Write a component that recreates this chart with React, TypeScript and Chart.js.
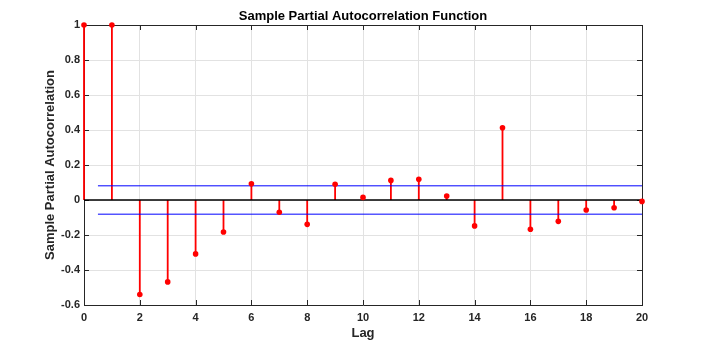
import React, { useEffect, useRef } from "react";
import { Chart, registerables } from "chart.js";

Chart.register(...registerables);

const lags = [0, 1, 2, 3, 4, 5, 6, 7, 8, 9, 10, 11, 12, 13, 14, 15, 16, 17, 18, 19, 20];
const pacf = [1, 1, -0.54, -0.468, -0.308, -0.183, 0.093, -0.07, -0.139, 0.09, 0.015, 0.112, 0.118, 0.023, -0.148, 0.413, -0.167, -0.122, -0.057, -0.044, -0.008];
const confBound = 0.081;
const boundStart = 0.5;
const xTicks = [0, 2, 4, 6, 8, 10, 12, 14, 16, 18, 20];
const yTicks = [-0.6, -0.4, -0.2, 0, 0.2, 0.4, 0.6, 0.8, 1];
const titleText = "Sample Partial Autocorrelation Function";
const xLabel = "Lag";
const yLabel = "Sample Partial Autocorrelation";

const FONT = "'Liberation Sans', Arial, Helvetica, sans-serif";
const AXIS = "#262626";
const GRID = "#e2e2e2";

const inwardTicks = {
  id: "inwardTicks",
  beforeDatasetsDraw(chart: any) {
    const { ctx, chartArea, scales } = chart;
    const { left, right, top, bottom } = chartArea;
    const len = 5;
    ctx.save();
    ctx.strokeStyle = AXIS;
    ctx.lineWidth = 1;
    ctx.beginPath();
    for (const v of xTicks) {
      const px = Math.round(scales.x.getPixelForValue(v)) + 0.5;
      ctx.moveTo(px, bottom);
      ctx.lineTo(px, bottom - len);
      ctx.moveTo(px, top);
      ctx.lineTo(px, top + len);
    }
    for (const v of yTicks) {
      const py = Math.round(scales.y.getPixelForValue(v)) + 0.5;
      ctx.moveTo(left, py);
      ctx.lineTo(left + len, py);
      ctx.moveTo(right, py);
      ctx.lineTo(right - len, py);
    }
    ctx.stroke();
    ctx.restore();
  },
};

export default function App() {
  const ref = useRef<HTMLCanvasElement | null>(null);

  useEffect(() => {
    document.body.style.margin = "0";
    const canvas = ref.current;
    if (!canvas) return;

    const stemData: any[] = [];
    lags.forEach((l, i) => {
      stemData.push({ x: l, y: 0 });
      stemData.push({ x: l, y: pacf[i] });
      stemData.push({ x: l, y: null });
    });
    const markerData = lags.map((l, i) => ({ x: l, y: pacf[i] }));
    const lastLag = lags[lags.length - 1];

    const chart = new Chart(canvas, {
      type: "scatter",
      data: {
        datasets: [
          {
            type: "scatter",
            data: markerData,
            pointRadius: 2.8,
            pointBackgroundColor: "#ff0000",
            pointBorderColor: "#ff0000",
            pointBorderWidth: 0,
            clip: false as any,
            order: 0,
          },
          {
            type: "line",
            data: [
              { x: lags[0], y: 0 },
              { x: lastLag, y: 0 },
            ],
            borderColor: "#000000",
            borderWidth: 1.5,
            pointRadius: 0,
            showLine: true,
            order: 1,
          },
          {
            type: "line",
            data: [
              { x: boundStart, y: confBound },
              { x: lastLag, y: confBound },
            ],
            borderColor: "#0000ff",
            borderWidth: 1,
            pointRadius: 0,
            showLine: true,
            order: 2,
          },
          {
            type: "line",
            data: [
              { x: boundStart, y: -confBound },
              { x: lastLag, y: -confBound },
            ],
            borderColor: "#0000ff",
            borderWidth: 1,
            pointRadius: 0,
            showLine: true,
            order: 2,
          },
          {
            type: "line",
            data: stemData,
            borderColor: "#ff0000",
            borderWidth: 1.8,
            pointRadius: 0,
            showLine: true,
            spanGaps: false,
            clip: false as any,
            order: 3,
          },
        ] as any,
      },
      options: {
        animation: false,
        responsive: false,
        devicePixelRatio: 1,
        layout: { padding: 0 },
        plugins: {
          legend: { display: false },
          tooltip: { enabled: false },
          title: { display: false },
        },
        scales: {
          x: {
            type: "linear",
            position: "bottom",
            min: 0,
            max: 20,
            afterBuildTicks: (s: any) => {
              s.ticks = xTicks.map((v) => ({ value: v }));
            },
            afterFit: (s: any) => {
              s.height = 43;
            },
            grid: { color: GRID, lineWidth: 1, drawTicks: false },
            border: { display: true, color: AXIS, width: 1 },
            ticks: {
              padding: 6,
              color: AXIS,
              autoSkip: false,
              maxRotation: 0,
              font: { family: FONT, size: 11, weight: "bold" },
              callback: (v: any) => String(v),
            },
            title: {
              display: true,
              text: xLabel,
              color: AXIS,
              font: { family: FONT, size: 13, weight: "bold" },
              padding: { top: 0, bottom: 7 },
            },
          },
          x2: {
            type: "linear",
            position: "top",
            min: 0,
            max: 20,
            afterFit: (s: any) => {
              s.height = 25;
            },
            grid: { display: false, drawTicks: false },
            border: { display: true, color: AXIS, width: 1 },
            ticks: { display: false },
            title: {
              display: true,
              text: titleText,
              color: "#000000",
              font: { family: FONT, size: 13, weight: "bold" },
              padding: { top: 9, bottom: 0 },
            },
          },
          y: {
            type: "linear",
            position: "left",
            min: -0.6,
            max: 1,
            afterBuildTicks: (s: any) => {
              s.ticks = yTicks.map((v) => ({ value: v }));
            },
            afterFit: (s: any) => {
              s.width = 84;
            },
            grid: { color: GRID, lineWidth: 1, drawTicks: false },
            border: { display: true, color: AXIS, width: 1 },
            ticks: {
              padding: 4,
              color: AXIS,
              autoSkip: false,
              font: { family: FONT, size: 11, weight: "bold" },
              callback: (v: any) => String(Number(Number(v).toFixed(1))),
            },
            title: {
              display: true,
              text: yLabel,
              color: AXIS,
              font: { family: FONT, size: 13, weight: "bold" },
              padding: { top: 43, bottom: 0 },
            },
          },
          y2: {
            type: "linear",
            position: "right",
            min: -0.6,
            max: 1,
            afterFit: (s: any) => {
              s.width = 63;
            },
            grid: { display: false, drawTicks: false },
            border: { display: true, color: AXIS, width: 1 },
            ticks: { display: false },
          },
        },
      } as any,
      plugins: [inwardTicks],
    });

    return () => {
      chart.destroy();
    };
  }, []);

  return (
    <div style={{ position: "absolute", left: 0, top: 0, width: 705, height: 348, background: "#ffffff" }}>
      <canvas ref={ref} width={705} height={348} style={{ display: "block" }} />
    </div>
  );
}
